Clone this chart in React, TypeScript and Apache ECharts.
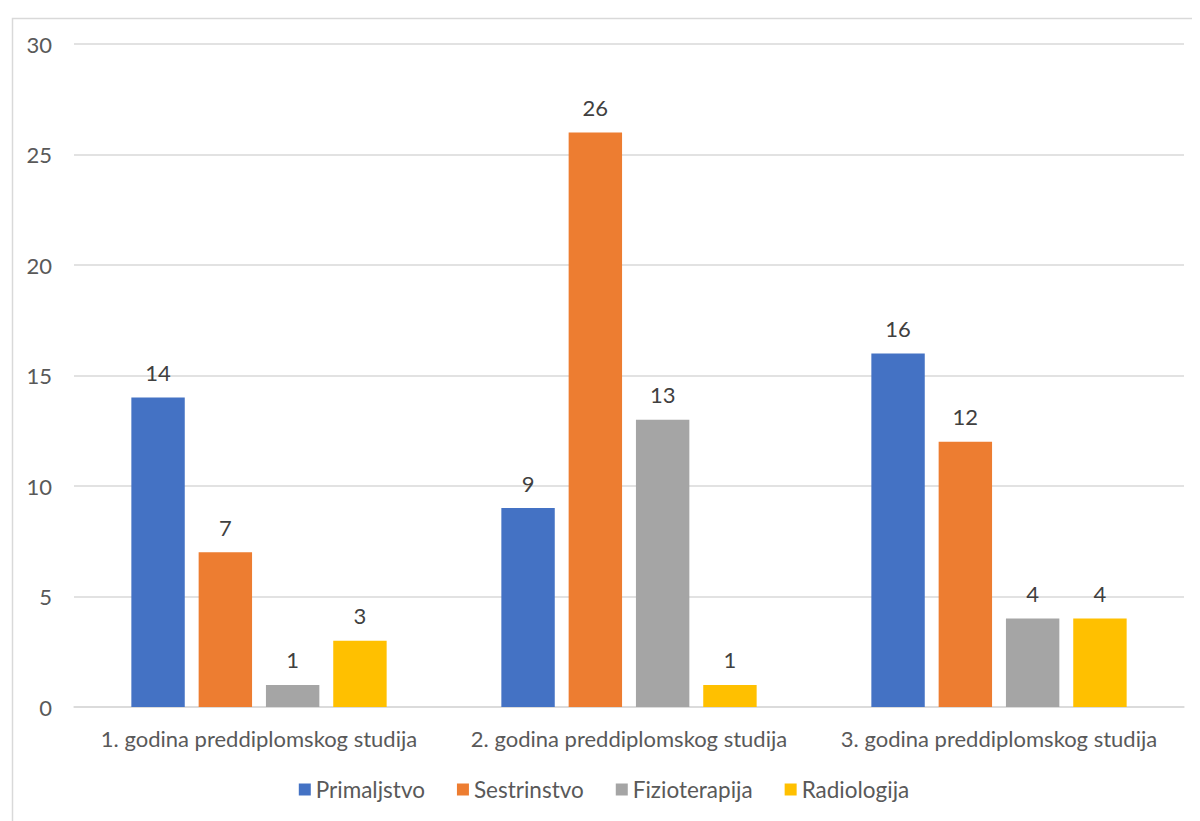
import React, { useEffect, useRef } from "react";
import * as echarts from "echarts";

const categories = [
  "1. godina preddiplomskog studija",
  "2. godina preddiplomskog studija",
  "3. godina preddiplomskog studija",
];
const seriesNames = ["Primaljstvo", "Sestrinstvo", "Fizioterapija", "Radiologija"];
const primaljstvo = [14, 9, 16];
const sestrinstvo = [7, 26, 12];
const fizioterapija = [1, 13, 4];
const radiologija = [3, 1, 4];
const colors = ["#4472C4", "#ED7D31", "#A5A5A5", "#FFC000"];
const yTicks = { min: 0, max: 30, interval: 5 };

const FONT = "Lato, 'Open Sans', sans-serif";
const FS = 22;

export default function App() {
  const ref = useRef<HTMLDivElement>(null);
  useEffect(() => {
    if (!ref.current) return;
    const chart = echarts.init(ref.current, null, { renderer: "svg" });
    const values = [primaljstvo, sestrinstvo, fizioterapija, radiologija];
    chart.setOption({
      animation: false,
      backgroundColor: "#fff",
      textStyle: { fontFamily: FONT },
      graphic: [
        {
          type: "rect",
          left: 2,
          top: 8,
          shape: { width: 1400, height: 1000 },
          style: { fill: "none", stroke: "#d9d9d9", lineWidth: 1.5 },
          silent: true,
        },
      ],
      grid: { left: 66, right: 16, top: 36, bottom: 114, containLabel: false },
      legend: {
        data: seriesNames,
        top: 765,
        left: "center",
        itemWidth: 12,
        itemHeight: 12,
        itemGap: 32,
        icon: "rect",
        textStyle: { fontFamily: FONT, fontSize: 22.5, color: "#595959" },
      },
      xAxis: {
        type: "category",
        data: categories,
        axisLine: { lineStyle: { color: "#d9d9d9", width: 1.5 } },
        axisTick: { show: false },
        axisLabel: { fontFamily: FONT, fontSize: FS, color: "#595959", margin: 20, interval: 0 },
      },
      yAxis: {
        type: "value",
        min: yTicks.min,
        max: yTicks.max,
        interval: yTicks.interval,
        axisLine: { show: false },
        axisTick: { show: false },
        splitLine: { lineStyle: { color: "#d9d9d9", width: 1.5 } },
        axisLabel: { fontFamily: FONT, fontSize: FS, color: "#595959", margin: 22 },
      },
      series: seriesNames.map((name, i) => ({
        name,
        type: "bar",
        data: values[i],
        barGap: "26%",
        barCategoryGap: "31%",
        itemStyle: { color: colors[i] },
        label: {
          show: true,
          position: "top",
          distance: 14,
          fontFamily: FONT,
          fontSize: FS,
          color: "#404040",
        },
      })),
    });
    return () => chart.dispose();
  }, []);
  return <div ref={ref} style={{ width: 1192, height: 813 }} />;
}
